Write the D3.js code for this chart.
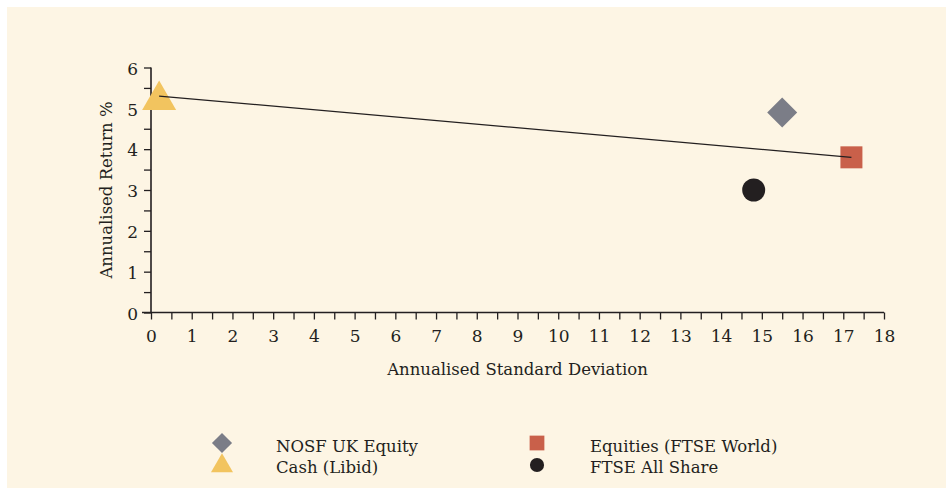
<!DOCTYPE html>
<html><head><meta charset="utf-8">
<script src="https://cdn.jsdelivr.net/npm/d3@7"></script>
<style>
html,body{margin:0;padding:0;background:#fff;}
svg{display:block;}
text{font-family:"DejaVu Serif",serif;fill:#231f20;}
</style></head>
<body>
<svg id="chart" width="946" height="488"></svg>
<script>
// Data
const seriesNames = ["NOSF UK Equity", "Equities (FTSE World)", "Cash (Libid)", "FTSE All Share"];
const stdDev = [15.5, 17.2, 0.2, 14.8];
const annReturn = [4.9, 3.8, 5.2, 3.0];
const lineX = [0.2, 17.2];
const lineY = [5.3, 3.8];
const xTicks = [0,1,2,3,4,5,6,7,8,9,10,11,12,13,14,15,16,17,18];
const yTicks = [0,1,2,3,4,5,6];
const xTitle = "Annualised Standard Deviation";
const yTitle = "Annualised Return %";

const colors = {"NOSF UK Equity":"#7b7d87","Equities (FTSE World)":"#c9604a","Cash (Libid)":"#f2c45f","FTSE All Share":"#231f20"};
const shapes = {"NOSF UK Equity":d3.symbolSquare,"Equities (FTSE World)":d3.symbolSquare,"Cash (Libid)":d3.symbolTriangle,"FTSE All Share":d3.symbolCircle};

const svg = d3.select("#chart");
svg.append("rect").attr("x",7).attr("y",7).attr("width",939).attr("height",481).attr("fill","#fdf5e4");

const x = d3.scaleLinear().domain([0,18]).range([151,884]);
const y = d3.scaleLinear().domain([0,6]).range([312.5,67.5]);

const halfX = d3.range(0,18.01,0.5);
const halfY = d3.range(0,6.01,0.5);
const fs = "16.5px";

const gx = svg.append("g").attr("transform","translate(0,312.5)");
gx.call(d3.axisBottom(x).tickValues(halfX).tickSize(7).tickFormat(d => Number.isInteger(d) && xTicks.includes(d) ? d : ""));
gx.select(".domain").attr("d", `M142,0H${x(18)}`);
const gy = svg.append("g").attr("transform","translate(151,0)");
gy.call(d3.axisLeft(y).tickValues(halfY).tickSize(7).tickFormat(d => Number.isInteger(d) && yTicks.includes(d) ? d : ""));
gy.select(".domain").attr("d", `M0,${y(6)}V${y(0)}`);
[gx,gy].forEach(g=>{
  g.selectAll(".domain").attr("stroke","#231f20").attr("stroke-width",1.6);
  g.selectAll(".tick line").attr("stroke","#231f20").attr("stroke-width",1.3);
  g.selectAll(".tick text").style("font-family","DejaVu Serif").style("font-size","17px").attr("fill","#231f20");
});
gx.selectAll(".tick text").attr("dy","0.71em").attr("y",17);
gy.selectAll(".tick text").attr("x",-13).attr("dy","0.4em");

svg.append("text").attr("x",(x(0)+x(18))/2).attr("y",375).attr("text-anchor","middle").style("font-size",fs).text(xTitle);
svg.append("text").attr("transform",`translate(112,${(y(0)+y(6))/2}) rotate(-90)`).attr("text-anchor","middle").style("font-size",fs).text(yTitle);

const sizes = {"NOSF UK Equity":450,"Equities (FTSE World)":484,"Cash (Libid)":500,"FTSE All Share":415};
function drawSym(g, name, cx, cy, scale){
  const sym = d3.symbol().type(shapes[name]).size(sizes[name]*scale);
  const rot = name==="NOSF UK Equity" ? " rotate(45)" : "";
  g.append("path").attr("d", sym()).attr("transform",`translate(${cx},${cy})${rot}`).attr("fill",colors[name]);
}
seriesNames.forEach((n,i)=>{
  drawSym(svg, n, x(stdDev[i]), y(annReturn[i]), 1);
});
// trend line on top
svg.append("path").attr("d", d3.line()([[x(lineX[0]),y(lineY[0])],[x(lineX[1]),y(lineY[1])]])).attr("stroke","#231f20").attr("stroke-width",1.2).attr("fill","none");

// legend
const legend = [
  {name:"NOSF UK Equity", sx:222, sy:443, tx:276, ty:451.5},
  {name:"Cash (Libid)", sx:222, sy:466, tx:276, ty:473},
  {name:"Equities (FTSE World)", sx:537, sy:443, tx:590, ty:451.5},
  {name:"FTSE All Share", sx:537, sy:465, tx:590, ty:473}
];
const lsizes = {"NOSF UK Equity":0.45,"Cash (Libid)":0.42,"Equities (FTSE World)":0.45,"FTSE All Share":0.38};
legend.forEach(l=>{
  drawSym(svg, l.name, l.sx, l.sy, lsizes[l.name]);
  svg.append("text").attr("x",l.tx).attr("y",l.ty).style("font-size",fs).text(l.name);
});
</script>
</body></html>
